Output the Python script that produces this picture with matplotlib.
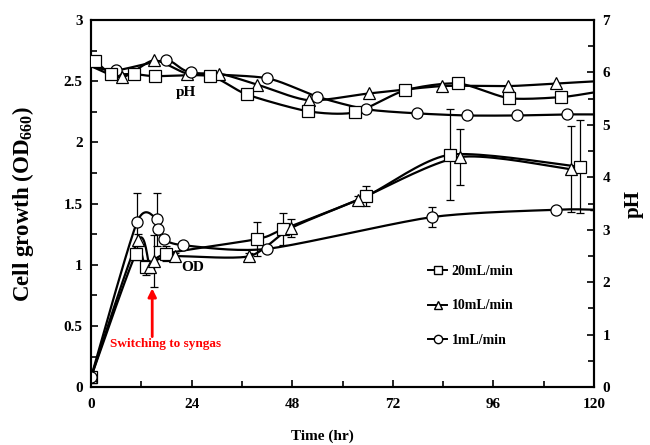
import numpy as np
import matplotlib
matplotlib.use("Agg")
import matplotlib.pyplot as plt
from matplotlib.lines import Line2D
from matplotlib.ticker import MultipleLocator, FormatStrFormatter

plt.rcParams['font.family'] = ['Liberation Serif', 'DejaVu Serif']
plt.rcParams['font.weight'] = 'bold'
plt.rcParams['mathtext.fontset'] = 'custom'
plt.rcParams['mathtext.rm'] = 'Liberation Serif:bold'
plt.rcParams['mathtext.bf'] = 'Liberation Serif:bold'

# OD (left axis)
od20_t = [0, 10.7, 13.1, 17.9, 39.6, 45.8, 65.6, 85.7, 116.7]
od20 = [0.08, 1.09, 0.98, 1.09, 1.21, 1.29, 1.56, 1.90, 1.80]
od20_err = [0, 0.05, 0.06, 0.06, 0.14, 0.13, 0.08, 0.37, 0.38]

od10_t = [0, 11.2, 14.0, 15.0, 20.0, 37.7, 47.7, 63.7, 88.0, 114.5]
od10 = [0.08, 1.20, 0.98, 1.03, 1.07, 1.07, 1.30, 1.53, 1.88, 1.78]
od10_err = [0, 0.05, 0.05, 0.21, 0.03, 0.03, 0.07, 0.03, 0.23, 0.35]

od1_t = [0, 11.0, 15.7, 16.0, 17.3, 22.0, 42.0, 81.4, 111.0, 120.0]
od1 = [0.08, 1.35, 1.37, 1.29, 1.21, 1.16, 1.13, 1.39, 1.45, 1.45]
od1_err = [0, 0.24, 0.22, 0.03, 0.03, 0.02, 0.02, 0.08, 0.02, 0]

# pH (right axis)
ph20_t = [1.0, 4.8, 10.3, 15.3, 28.4, 37.2, 51.8, 63.0, 74.9, 87.6, 99.7, 112.1, 120.0]
ph20 = [6.22, 5.98, 5.97, 5.93, 5.93, 5.58, 5.26, 5.24, 5.66, 5.79, 5.51, 5.53, 5.62]

ph10_t = [0, 7.4, 15.0, 22.9, 30.5, 39.6, 52.0, 66.3, 83.7, 99.5, 111.0, 120.0]
ph10 = [6.12, 5.91, 6.23, 5.98, 5.98, 5.77, 5.47, 5.60, 5.74, 5.74, 5.79, 5.83]

ph1_t = [0, 6.0, 17.9, 23.9, 42.0, 53.9, 65.6, 77.8, 89.7, 101.6, 113.6, 120.0]
ph1 = [6.12, 6.04, 6.23, 6.00, 5.89, 5.54, 5.30, 5.22, 5.18, 5.18, 5.20, 5.20]


def smooth(x, y, k=0.75, n=20):
    # cardinal spline through the points (similar to Excel's smoothed line)
    p = np.column_stack([x, y]).astype(float)
    p = np.vstack([p[0], p, p[-1]])
    out = []
    s = np.linspace(0, 1, n, endpoint=False)[:, None]
    h00 = 2 * s ** 3 - 3 * s ** 2 + 1
    h10 = s ** 3 - 2 * s ** 2 + s
    h01 = -2 * s ** 3 + 3 * s ** 2
    h11 = s ** 3 - s ** 2
    for i in range(1, len(p) - 2):
        m1 = k * (p[i + 1] - p[i - 1]) / 2
        m2 = k * (p[i + 2] - p[i]) / 2
        out.append(h00 * p[i] + h10 * m1 + h01 * p[i + 1] + h11 * m2)
    out.append(p[-2][None, :])
    out = np.vstack(out)
    return out[:, 0], out[:, 1]


fig = plt.figure(figsize=(6.5, 4.45), dpi=100)
ax = fig.add_axes([0.14, 0.13, 0.774, 0.825])
ax2 = ax.twinx()

mk = dict(markerfacecolor='white', markeredgecolor='black', markersize=8,
          markeredgewidth=0.9, linestyle='none', zorder=4)
lw = 1.6

# last entry: which points get a marker
series_od = [(od20_t, od20, od20_err, 's', slice(None)),
             (od10_t, od10, od10_err, '^', slice(None)),
             (od1_t, od1, od1_err, 'o', slice(0, -1))]
for t, v, e, m, sl in series_od:
    sx, sy = smooth(t, v)
    ax.plot(sx, sy, color='black', lw=lw, zorder=3)
    ax.errorbar(t, v, yerr=e, fmt='none', ecolor='black', elinewidth=0.9,
                capsize=3, capthick=0.9, zorder=2)
    ax.plot(t[sl], v[sl], marker=m, **mk)

series_ph = [(ph10_t, ph10, '^', slice(1, -1)), (ph1_t, ph1, 'o', slice(1, -1)),
             (ph20_t, ph20, 's', slice(0, -1))]
for t, v, m, sl in series_ph:
    sx, sy = smooth(t, v)
    ax2.plot(sx, sy, color='black', lw=lw, zorder=3)
    ax2.plot(t[sl], v[sl], marker=m, **mk)

ax.set_xlim(0, 120)
ax.set_ylim(0, 3)
ax2.set_ylim(0, 7)
ax.xaxis.set_major_locator(MultipleLocator(24))
ax.xaxis.set_minor_locator(MultipleLocator(12))
ax.yaxis.set_major_locator(MultipleLocator(0.5))
ax.yaxis.set_minor_locator(MultipleLocator(0.25))
ax.yaxis.set_major_formatter(FormatStrFormatter('%g'))
ax2.yaxis.set_major_locator(MultipleLocator(1))
ax2.yaxis.set_minor_locator(MultipleLocator(0.5))

for a in (ax, ax2):
    a.tick_params(which='both', direction='in', labelsize=11, width=1.2)
    a.tick_params(which='major', length=5)
    a.tick_params(which='minor', length=4)
    for sp in a.spines.values():
        sp.set_linewidth(1.5)
ax.tick_params(axis='x', pad=8)
ax.tick_params(axis='y', pad=6)
ax2.tick_params(axis='y', pad=6)

ax.set_xlabel('Time (hr)', fontsize=11, fontweight='bold')
ax.xaxis.set_label_coords(0.46, -0.115)
ax.set_ylabel('Cell growth (OD$_{660}$)', fontsize=16.5, fontweight='bold')
ax.yaxis.set_label_coords(-0.11, 0.5)
ax2.set_ylabel('pH', fontsize=15, fontweight='bold', labelpad=10)

ax.text(22.7, 2.41, 'pH', fontsize=11, fontweight='bold', ha='center', va='center')
ax.text(24.3, 0.98, 'OD', fontsize=11, fontweight='bold', ha='center', va='center')
ax.annotate('', xy=(14.6, 0.83), xytext=(14.6, 0.39),
            arrowprops=dict(arrowstyle='-|>', color='red', lw=2, mutation_scale=12))
ax.text(17.9, 0.35, 'Switching to syngas', color='red', fontsize=9.5,
        fontweight='bold', ha='center', va='center')

handles = [Line2D([], [], color='black', lw=1.4, marker=m, markerfacecolor='white',
                  markeredgecolor='black', markersize=6) for m in ('s', '^', 'o')]
ax2.legend(handles, ['20mL/min', '10mL/min', '1mL/min'], loc='upper left',
           bbox_to_anchor=(0.645, 0.367), frameon=False, fontsize=10,
           handlelength=1.4, handletextpad=0.3, labelspacing=1.55)

fig.savefig('out.png', dpi=100)
